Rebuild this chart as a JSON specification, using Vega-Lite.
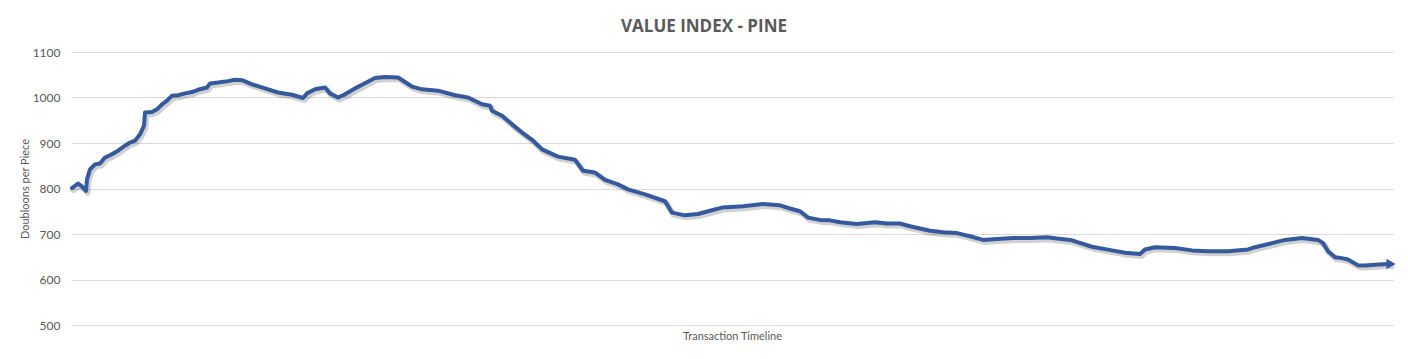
{
  "$schema": "https://vega.github.io/schema/vega-lite/v6.json",
  "width": 1322,
  "height": 273,
  "autosize": {"type": "none"},
  "padding": {"left": 71, "top": 52, "right": 15, "bottom": 34},
  "background": "#ffffff",
  "title": {
    "text": "VALUE INDEX - PINE",
    "font": "Open Sans",
    "fontSize": 17,
    "fontWeight": "bold",
    "color": "#595959",
    "anchor": "middle",
    "frame": "group",
    "dx": -28,
    "dy": 26,
    "baseline": "alphabetic",
    "offset": 23
  },
  "config": {
    "view": {"stroke": null},
    "axis": {"labelFont": "Lato", "titleFont": "Lato", "labelColor": "#595959", "titleColor": "#595959", "gridColor": "#D9D9D9", "gridWidth": 1}
  },
  "data": {
    "values": [
      {"t": 1, "v": 801}, {"t": 7, "v": 811}, {"t": 11, "v": 804}, {"t": 15, "v": 795}, {"t": 16, "v": 820},
      {"t": 19, "v": 842}, {"t": 24, "v": 853}, {"t": 29, "v": 855}, {"t": 34, "v": 868}, {"t": 39, "v": 873},
      {"t": 47, "v": 883}, {"t": 54, "v": 894}, {"t": 59, "v": 901}, {"t": 64, "v": 905}, {"t": 69, "v": 919},
      {"t": 73, "v": 938}, {"t": 74, "v": 967}, {"t": 81, "v": 968}, {"t": 86, "v": 974}, {"t": 91, "v": 985},
      {"t": 96, "v": 993}, {"t": 101, "v": 1004}, {"t": 107, "v": 1005}, {"t": 114, "v": 1009}, {"t": 121, "v": 1012},
      {"t": 127, "v": 1017}, {"t": 136, "v": 1022}, {"t": 139, "v": 1031}, {"t": 147, "v": 1033}, {"t": 157, "v": 1036},
      {"t": 164, "v": 1039}, {"t": 171, "v": 1038}, {"t": 181, "v": 1029}, {"t": 194, "v": 1020}, {"t": 207, "v": 1011},
      {"t": 221, "v": 1006}, {"t": 232, "v": 999}, {"t": 236, "v": 1009}, {"t": 244, "v": 1018}, {"t": 254, "v": 1022},
      {"t": 259, "v": 1009}, {"t": 267, "v": 1000}, {"t": 274, "v": 1007}, {"t": 284, "v": 1020}, {"t": 292, "v": 1029},
      {"t": 304, "v": 1043}, {"t": 314, "v": 1045}, {"t": 327, "v": 1044}, {"t": 334, "v": 1034}, {"t": 341, "v": 1024},
      {"t": 351, "v": 1018}, {"t": 367, "v": 1015}, {"t": 384, "v": 1005}, {"t": 397, "v": 1000}, {"t": 411, "v": 985},
      {"t": 419, "v": 982}, {"t": 421, "v": 971}, {"t": 431, "v": 960}, {"t": 441, "v": 941}, {"t": 451, "v": 923},
      {"t": 461, "v": 907}, {"t": 471, "v": 886}, {"t": 487, "v": 870}, {"t": 504, "v": 863}, {"t": 512, "v": 839},
      {"t": 524, "v": 835}, {"t": 534, "v": 819}, {"t": 547, "v": 809}, {"t": 557, "v": 798}, {"t": 574, "v": 787},
      {"t": 594, "v": 772}, {"t": 601, "v": 747}, {"t": 614, "v": 741}, {"t": 627, "v": 744}, {"t": 637, "v": 750},
      {"t": 651, "v": 758}, {"t": 664, "v": 760}, {"t": 672, "v": 761}, {"t": 692, "v": 766}, {"t": 709, "v": 763},
      {"t": 719, "v": 756}, {"t": 729, "v": 750}, {"t": 737, "v": 736}, {"t": 749, "v": 731}, {"t": 759, "v": 730},
      {"t": 769, "v": 726}, {"t": 786, "v": 722}, {"t": 796, "v": 724}, {"t": 804, "v": 726}, {"t": 816, "v": 723},
      {"t": 829, "v": 723}, {"t": 839, "v": 717}, {"t": 849, "v": 712}, {"t": 859, "v": 707}, {"t": 872, "v": 704},
      {"t": 886, "v": 702}, {"t": 899, "v": 695}, {"t": 912, "v": 687}, {"t": 926, "v": 689}, {"t": 942, "v": 691},
      {"t": 959, "v": 691}, {"t": 976, "v": 693}, {"t": 986, "v": 690}, {"t": 999, "v": 687}, {"t": 1004, "v": 684},
      {"t": 1021, "v": 672}, {"t": 1041, "v": 664}, {"t": 1054, "v": 659}, {"t": 1069, "v": 656}, {"t": 1074, "v": 666},
      {"t": 1084, "v": 671}, {"t": 1104, "v": 669}, {"t": 1121, "v": 664}, {"t": 1137, "v": 662}, {"t": 1157, "v": 662},
      {"t": 1177, "v": 666}, {"t": 1184, "v": 671}, {"t": 1201, "v": 680}, {"t": 1214, "v": 687}, {"t": 1231, "v": 691},
      {"t": 1247, "v": 687}, {"t": 1252, "v": 680}, {"t": 1257, "v": 662}, {"t": 1264, "v": 649}, {"t": 1271, "v": 647},
      {"t": 1277, "v": 644}, {"t": 1287, "v": 631}, {"t": 1294, "v": 631}, {"t": 1307, "v": 633}, {"t": 1319, "v": 634}
    ]
  },
  "encoding": {
    "x": {
      "field": "t",
      "type": "quantitative",
      "scale": {"domain": [0, 1322], "nice": false, "zero": false},
      "axis": {"title": "Transaction Timeline", "labels": false, "ticks": false, "domain": false, "grid": false, "titleFontSize": 11, "titleFontWeight": "normal", "titlePadding": 5}
    },
    "y": {
      "field": "v",
      "type": "quantitative",
      "scale": {"domain": [500, 1100], "nice": false, "zero": false},
      "axis": {"title": "Doubloons per Piece", "format": "d", "values": [500, 600, 700, 800, 900, 1000, 1100], "ticks": false, "domain": false, "labelFontSize": 12, "labelPadding": 11, "titleFontSize": 11, "titleFontWeight": "normal", "titlePadding": 2}
    }
  },
  "layer": [
    {"mark": {"type": "line", "stroke": "#000000", "opacity": 0.18, "strokeWidth": 6, "xOffset": 1.5, "yOffset": 2, "strokeJoin": "round", "strokeCap": "round"}},
    {"mark": {"type": "line", "stroke": "#34599D", "strokeWidth": 4, "strokeJoin": "round", "strokeCap": "round"}},
    {"transform": [{"filter": "datum.t == 1319"}], "mark": {"type": "point", "shape": "triangle-right", "filled": true, "fill": "#34599D", "size": 110, "opacity": 1, "xOffset": 1}}
  ]
}
